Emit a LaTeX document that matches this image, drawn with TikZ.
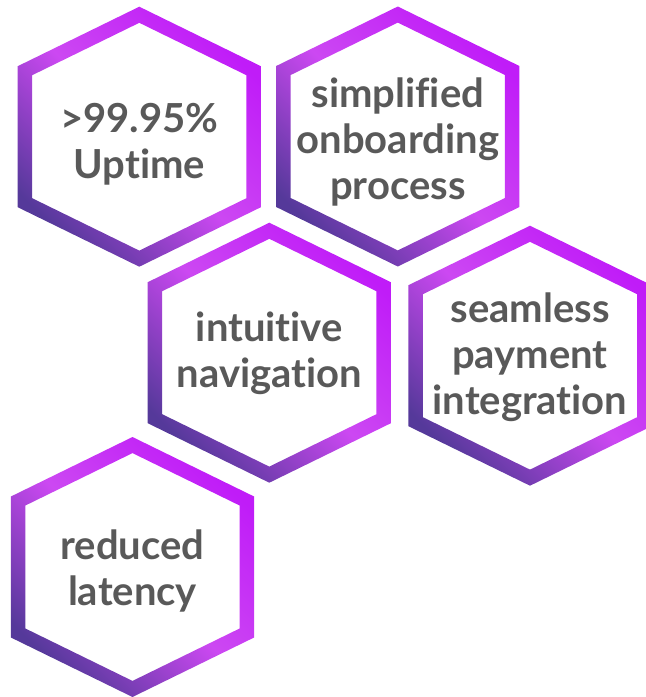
\documentclass[tikz,border=0pt]{standalone}
\usepackage{fontspec}
\setmainfont[RawFeature={-liga;-clig;-dlig}]{Lato}
\usetikzlibrary{shadings}

\definecolor{ringdark}{HTML}{55399A}
\definecolor{ringmid}{HTML}{CC48F2}
\definecolor{ringbright}{HTML}{C01CF8}
\definecolor{labelgray}{HTML}{595959}

% diagonal gradient for the hexagon rings: indigo -> orchid -> violet
\pgfdeclarehorizontalshading{ringshade}{100bp}{%
  color(0bp)=(ringdark); color(25bp)=(ringdark);
  color(50bp)=(ringmid);
  color(75bp)=(ringbright); color(100bp)=(ringbright)}

\tikzset{
  hexring/.pic={
    \shade[shading=ringshade, shading angle=45, even odd rule]
      (0,-130) -- (-121.6,-70.5) -- (-121.6,70.5) -- (0,130)
        -- (121.6,70.5) -- (121.6,-70.5) -- cycle
      (0,-113.9) -- (-107.1,-61.5) -- (-107.1,61.5) -- (0,113.9)
        -- (107.1,61.5) -- (107.1,-61.5) -- cycle;
  },
  hexlabel/.style={align=center, text=labelgray, inner sep=0pt,
    font=\fontsize{40}{46}\selectfont\bfseries}
}

\begin{document}
\begin{tikzpicture}[x=1pt, y=-1pt]
  \useasboundingbox (0,0) rectangle (646,697);
  \clip (0,0) rectangle (646,697);

  \pic at (139.3,136.7) {hexring};
  \pic at (397.8,136.5) {hexring};
  \pic at (269.3,352.7) {hexring};
  \pic at (530,355.7)   {hexring};
  \pic at (132.5,567)   {hexring};

  \node[hexlabel] (uptime)     at (139.3,144) {>99.95\%\\Uptime};
  \node[hexlabel] (onboarding) at (397.8,142) {simplified\\onboarding\\process};
  \node[hexlabel] (navigation) at (269.3,353) {intuitive\\navigation};
  \node[hexlabel] (payment)    at (530,357)   {seamless\\payment\\integration};
  \node[hexlabel] (latency)    at (132.5,571) {reduced\\latency};
\end{tikzpicture}
\end{document}
